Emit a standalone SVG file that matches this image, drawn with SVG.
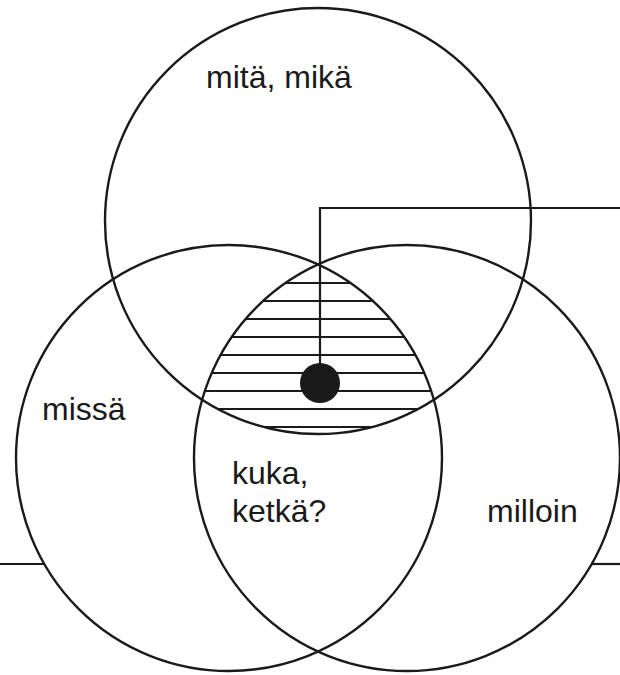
<svg xmlns="http://www.w3.org/2000/svg" width="620" height="675" viewBox="0 0 620 675">
<style>
.c{fill:none;stroke:#1a1a1a;stroke-width:2.4}
.h{stroke:#1a1a1a;stroke-width:2}
.l{fill:none;stroke:#1a1a1a;stroke-width:2.2}
text{font-family:"Liberation Sans",Arial,sans-serif;font-size:32px;fill:#1a1a1a}
</style>
<defs>
<clipPath id="cT"><circle cx="318" cy="221" r="213"/></clipPath>
<clipPath id="cL"><circle cx="229" cy="458" r="213"/></clipPath>
<clipPath id="cR"><circle cx="407" cy="458" r="213"/></clipPath>
</defs>
<rect width="620" height="675" fill="#fff"/>
<g id="hatch" clip-path="url(#cT)"><g clip-path="url(#cL)"><g clip-path="url(#cR)">
<line class="h" x1="150" y1="283" x2="480" y2="283"/>
<line class="h" x1="150" y1="301" x2="480" y2="301"/>
<line class="h" x1="150" y1="319" x2="480" y2="319"/>
<line class="h" x1="150" y1="337" x2="480" y2="337"/>
<line class="h" x1="150" y1="355" x2="480" y2="355"/>
<line class="h" x1="150" y1="373" x2="480" y2="373"/>
<line class="h" x1="150" y1="391" x2="480" y2="391"/>
<line class="h" x1="150" y1="409" x2="480" y2="409"/>
<line class="h" x1="150" y1="427" x2="480" y2="427"/>
</g></g></g>
<g id="top"><circle class="c" cx="318" cy="221" r="213"/><text x="206" y="88">mitä, mikä</text></g>
<g id="left"><circle class="c" cx="229" cy="458" r="213"/><text x="42" y="420">missä</text></g>
<g id="right"><circle class="c" cx="407" cy="458" r="213"/><text x="487" y="522">milloin</text></g>
<g id="center"><text x="232" y="484">kuka,</text><text x="232" y="522">ketkä?</text></g>
<g id="connectors">
<polyline class="l" points="320,383 320,208 620,208"/>
<line class="l" x1="0" y1="564" x2="44" y2="564"/>
<line class="l" x1="592" y1="564" x2="620" y2="564"/>
</g>
<g id="dot"><circle cx="320" cy="383" r="20" fill="#1a1a1a"/></g>
</svg>
